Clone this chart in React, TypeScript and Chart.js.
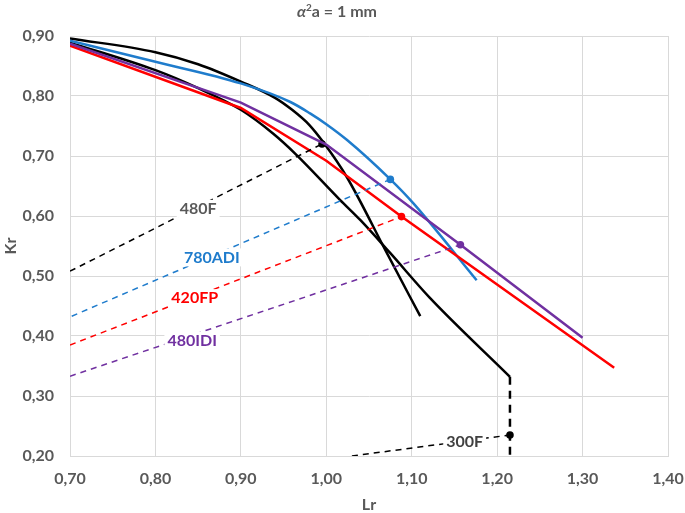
import React, { useEffect, useRef } from 'react';
import { Chart, registerables } from 'chart.js';
Chart.register(...registerables);

// ---- axes ----
const X_MIN = 0.7;
const X_MAX = 1.4;
const Y_MIN = 0.2;
const Y_MAX = 0.9;
const TICK_STEP = 0.1;
const X_TITLE = 'Lr';
const Y_TITLE = 'Kr';

// ---- solid curves ----
const black1Lr = [0.70, 0.80, 0.85, 0.90, 0.94, 0.96, 0.98, 0.997, 1.024, 1.071, 1.11];
const black1Kr = [0.896, 0.873, 0.853, 0.824, 0.797, 0.777, 0.752, 0.722, 0.665, 0.538, 0.433];

const black2Lr = [0.70, 0.80, 0.85, 0.90, 0.938, 0.965, 1.016, 1.04, 1.075, 1.121, 1.215];
const black2Kr = [0.889, 0.843, 0.813, 0.777, 0.737, 0.702, 0.627, 0.593, 0.538, 0.464, 0.332];

const blueLr = [0.70, 0.80, 0.90, 0.958, 0.981, 1.0, 1.024, 1.075, 1.102, 1.176];
const blueKr = [0.892, 0.857, 0.821, 0.790, 0.771, 0.753, 0.727, 0.661, 0.621, 0.493];

const redLr = [0.70, 0.90, 1.00, 1.088, 1.337];
const redKr = [0.884, 0.780, 0.692, 0.599, 0.347];

const purpleLr = [0.70, 0.90, 1.00, 1.157, 1.30];
const purpleKr = [0.887, 0.789, 0.719, 0.552, 0.397];

// ---- dashed guide lines ----
const g480FLr = [0.70, 0.995];
const g480FKr = [0.508, 0.72];
const g780ADILr = [0.702, 1.075];
const g780ADIKr = [0.433, 0.661];
const g420FPLr = [0.70, 1.088];
const g420FPKr = [0.385, 0.599];
const g480IDILr = [0.70, 1.157];
const g480IDIKr = [0.333, 0.552];
const g300FLr = [1.03, 1.215];
const g300FKr = [0.20, 0.235];
const gVertLr = [1.215, 1.215];
const gVertKr = [0.332, 0.20];

// ---- marked points ----
const dotLr = [0.995, 1.075, 1.088, 1.157, 1.215];
const dotKr = [0.72, 0.661, 0.599, 0.552, 0.235];

// ---- annotations ----
const labelTexts = ['480F', '780ADI', '420FP', '480IDI', '300F'];
const labelLr = [0.850, 0.866, 0.846, 0.843, 1.162];
const labelKr = [0.612, 0.531, 0.463, 0.392, 0.224];

const BLACK = '#000000';
const BLUE = '#1f7ccc';
const RED = '#ff0000';
const PURPLE = '#7030a0';
const GRAY = '#595959';
const dotColors = [BLACK, BLUE, RED, PURPLE, BLACK];
const labelColors = [GRAY, BLUE, RED, PURPLE, '#404040'];

const FONT = "Lato, 'Open Sans', sans-serif";

const zip = (xs: number[], ys: number[]) => xs.map((x, i) => ({ x, y: ys[i] }));

const solid = (xs: number[], ys: number[], color: string, mono: boolean) => ({
  data: zip(xs, ys),
  borderColor: color,
  backgroundColor: color,
  borderWidth: 2.5,
  pointRadius: 0,
  showLine: true,
  fill: false,
  cubicInterpolationMode: mono ? 'monotone' : 'default',
  tension: 0,
});

const dashed = (xs: number[], ys: number[], color: string, w = 1.5, dash = [6, 5]) => ({
  data: zip(xs, ys),
  borderColor: color,
  backgroundColor: color,
  borderWidth: w,
  borderDash: dash,
  pointRadius: 0,
  showLine: true,
  fill: false,
});

const fmt = (v: number) => Number(v).toFixed(2).replace('.', ',');

const overlayPlugin = {
  id: 'overlay',
  afterDatasetsDraw(chart: any) {
    const { ctx, scales } = chart;
    ctx.save();
    ctx.font = `bold 16px ${FONT}`;
    ctx.textAlign = 'center';
    ctx.textBaseline = 'middle';
    labelTexts.forEach((t, i) => {
      const px = scales.x.getPixelForValue(labelLr[i]);
      const py = scales.y.getPixelForValue(labelKr[i]);
      const w = ctx.measureText(t).width;
      ctx.fillStyle = '#ffffff';
      ctx.fillRect(px - w / 2 - 3, py - 9, w + 6, 18);
      ctx.fillStyle = labelColors[i];
      ctx.fillText(t, px, py);
    });
    ctx.restore();
  },
  afterDraw(chart: any) {
    const { ctx } = chart;
    ctx.save();
    ctx.fillStyle = GRAY;
    ctx.textBaseline = 'middle';
    const parts = [
      { t: 'α', f: `italic bold 16px ${FONT}`, dy: 0 },
      { t: '2', f: `bold 10px ${FONT}`, dy: -4 },
      { t: 'a = 1 mm', f: `bold 16px ${FONT}`, dy: 0 },
    ];
    let total = 0;
    parts.forEach((p) => { ctx.font = p.f; total += ctx.measureText(p.t).width; });
    let x = 337 - total / 2;
    parts.forEach((p) => {
      ctx.font = p.f;
      ctx.textAlign = 'left';
      ctx.fillText(p.t, x, 12 + p.dy);
      x += ctx.measureText(p.t).width;
    });
    ctx.restore();
  },
};

export default function App() {
  const ref = useRef<HTMLCanvasElement | null>(null);
  useEffect(() => {
    if (!ref.current) return;
    const chart = new Chart(ref.current, {
      type: 'scatter',
      data: {
        datasets: [
          dashed(g480FLr, g480FKr, BLACK),
          dashed(g780ADILr, g780ADIKr, BLUE),
          dashed(g420FPLr, g420FPKr, RED),
          dashed(g480IDILr, g480IDIKr, PURPLE),
          dashed(g300FLr, g300FKr, BLACK),
          dashed(gVertLr, gVertKr, BLACK, 2.5, [8, 6]),
          solid(purpleLr, purpleKr, PURPLE, false),
          solid(redLr, redKr, RED, false),
          solid(blueLr, blueKr, BLUE, true),
          solid(black2Lr, black2Kr, BLACK, true),
          solid(black1Lr, black1Kr, BLACK, true),
          {
            data: zip(dotLr, dotKr),
            showLine: false,
            pointRadius: 3.8,
            pointBackgroundColor: dotColors,
            pointBorderColor: dotColors,
            pointBorderWidth: 0,
          },
        ] as any,
      },
      options: {
        responsive: false,
        animation: false,
        layout: { padding: { top: 36, right: 17, left: 0, bottom: 0 } },
        plugins: { legend: { display: false }, tooltip: { enabled: false }, title: { display: false } },
        scales: {
          x: {
            type: 'linear',
            min: X_MIN,
            max: X_MAX,
            afterFit: (s: any) => { s.height = 57; s.paddingLeft = 0; s.paddingRight = 0; },
            ticks: { stepSize: TICK_STEP, callback: (v: any) => fmt(v), color: GRAY, font: { family: FONT, size: 16, weight: 'bold' }, padding: 13 },
            grid: { color: '#d9d9d9', lineWidth: 1, drawTicks: false },
            border: { display: true, color: '#d9d9d9' },
            title: { display: true, text: X_TITLE, color: GRAY, font: { family: FONT, size: 16, weight: 'bold', lineHeight: 1 }, padding: 0 },
          },
          y: {
            type: 'linear',
            min: Y_MIN,
            max: Y_MAX,
            afterFit: (s: any) => { s.width = 70; s.paddingTop = 0; s.paddingBottom = 0; },
            ticks: { stepSize: TICK_STEP, callback: (v: any) => fmt(v), color: GRAY, font: { family: FONT, size: 16, weight: 'bold' }, padding: 16 },
            grid: { color: '#d9d9d9', lineWidth: 1, drawTicks: false },
            border: { display: true, color: '#d9d9d9' },
            title: { display: true, text: Y_TITLE, color: GRAY, font: { family: FONT, size: 16, weight: 'bold', lineHeight: 1 }, padding: { top: 3, bottom: 0 } },
          },
        },
      } as any,
      plugins: [overlayPlugin],
    });
    return () => chart.destroy();
  }, []);
  return (
    <div style={{ position: 'fixed', left: 0, top: 0, width: 685, height: 513, background: '#fff' }}>
      <canvas ref={ref} width={685} height={513} style={{ display: 'block' }} />
    </div>
  );
}
